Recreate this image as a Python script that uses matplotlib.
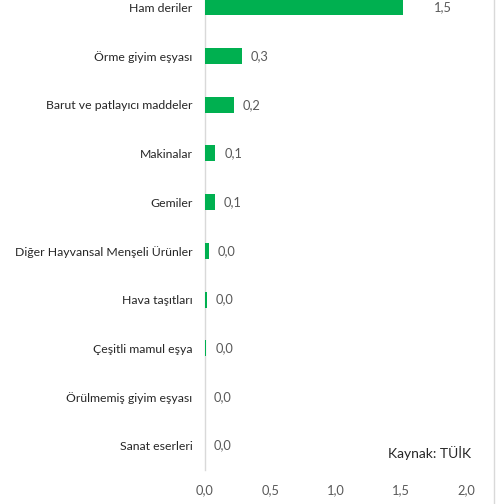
import matplotlib
matplotlib.use("Agg")
import matplotlib.pyplot as plt
from matplotlib.lines import Line2D

categories = ["Ham deriler", "Örme giyim eşyası", "Barut ve patlayıcı maddeler",
              "Makinalar", "Gemiler", "Diğer Hayvansal Menşeli Ürünler",
              "Hava taşıtları", "Çeşitli mamul eşya", "Örülmemiş giyim eşyası",
              "Sanat eserleri"]
values = [1.52, 0.28, 0.22, 0.08, 0.075, 0.03, 0.012, 0.01, 0.0, 0.0]
xticks = [0.0, 0.5, 1.0, 1.5, 2.0]
source = "Kaynak: TÜİK"

plt.rcParams['font.family'] = ['Lato', 'DejaVu Sans']

W, H = 497, 504
fig = plt.figure(figsize=(W / 100, H / 100), dpi=100)
left, right = 205, 466
top, bottom = -17, 470
ax = fig.add_axes([left / W, 1 - bottom / H, (right - left) / W, (bottom - top) / H])

n = len(categories)
ypos = list(range(n))
ax.barh(ypos, values, height=0.33, color="#00B050", linewidth=0, zorder=3)
ax.set_ylim(n - 0.5, -0.5)
ax.set_xlim(0, 2.0)

for i, v in enumerate(values):
    off = 31 if i == 0 else 9
    ax.annotate(f"{v:.1f}".replace(".", ","), (v, i), xytext=(off * 0.72, 0),
                textcoords="offset points", va="center", ha="left",
                fontsize=9.3, color="#595959")

ax.set_yticks(ypos)
ax.set_yticklabels(categories, fontsize=8.8, color="#262626")
ax.set_xticks(xticks)
ax.set_xticklabels([f"{t:.1f}".replace(".", ",") for t in xticks], fontsize=9.3, color="#595959")
ax.tick_params(axis="both", length=0)
ax.tick_params(axis="y", pad=9)
ax.tick_params(axis="x", pad=10)
for s in ["top", "right", "bottom"]:
    ax.spines[s].set_visible(False)
ax.spines["left"].set_color("#D9D9D9")
ax.spines["left"].set_linewidth(1.0)
ax.spines["left"].set_zorder(1)

fig.text(388 / W, 1 - 453 / H, source, fontsize=10, color="#262626", va="center", ha="left")
fig.add_artist(Line2D([494 / W, 494 / W], [0, 1], transform=fig.transFigure, color="#D9D9D9", lw=1))

fig.savefig("out.png", dpi=100)
